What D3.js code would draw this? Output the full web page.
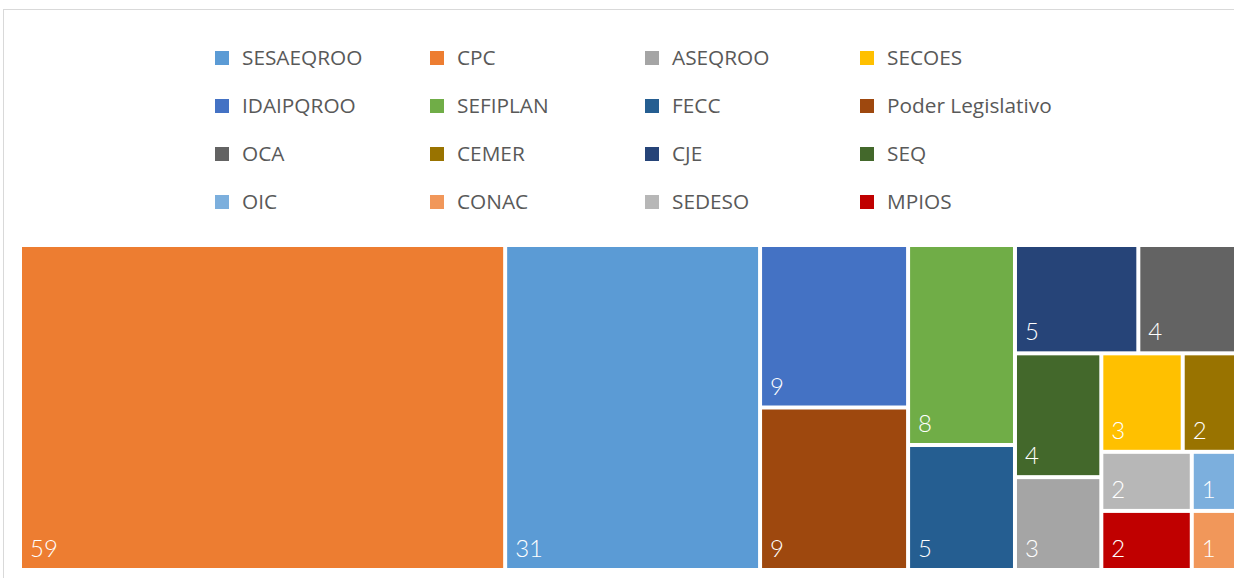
<!DOCTYPE html>
<html>
<head>
  <meta charset="utf-8">
  <title>Treemap</title>
  <style type="text/css">
    body {
      margin: 0;
      background-color: #fff;
    }
    svg {
      display: block;
    }
    text.legend {
      fill: #595959;
      font: 20.8px "Open Sans", sans-serif;
    }
    text.value {
      fill: #fff;
      font: 300 24px "Lato", sans-serif;
    }
  </style>
  <script src="https://d3js.org/d3.v7.min.js"></script>
</head>
<body>

<script>
// data, in the order of the legend
var names = ["SESAEQROO", "CPC", "ASEQROO", "SECOES",
             "IDAIPQROO", "SEFIPLAN", "FECC", "Poder Legislativo",
             "OCA", "CEMER", "CJE", "SEQ",
             "OIC", "CONAC", "SEDESO", "MPIOS"];
var counts = [31, 59, 3, 3,
              9, 8, 5, 9,
              4, 2, 5, 4,
              1, 1, 2, 2];
var colors = ["#5B9BD5", "#ED7D31", "#A5A5A5", "#FFC000",
              "#4472C4", "#70AD47", "#255E91", "#9E480E",
              "#636363", "#997300", "#264478", "#43682B",
              "#7CAFDD", "#F1975A", "#B7B7B7", "#C00000"];

var width = 1234, height = 578;

var svg = d3.select("body").append("svg")
    .attr("width", width)
    .attr("height", height);

// chart border (runs off the right / bottom like the original)
svg.append("rect")
    .attr("x", 3.5).attr("y", 9.5)
    .attr("width", 1300).attr("height", 600)
    .attr("fill", "none")
    .attr("stroke", "#d9d9d9")
    .attr("stroke-width", 1);

// legend
var color = d3.scaleOrdinal().domain(names).range(colors);
var legendX = d3.scaleLinear().domain([0, 1]).range([215, 430]);
var legendY = d3.scaleLinear().domain([0, 1]).range([58, 106]);

var leg = svg.append("g").selectAll("g")
    .data(names)
    .enter().append("g")
    .attr("transform", function(d, i) {
      return "translate(" + legendX(i % 4) + "," + legendY(Math.floor(i / 4)) + ")";
    });

leg.append("rect")
    .attr("x", 0).attr("y", -7)
    .attr("width", 14).attr("height", 14)
    .attr("fill", function(d) { return color(d); });

leg.append("text")
    .attr("class", "legend")
    .attr("x", 27)
    .attr("dy", "0.35em")
    .text(function(d) { return d; });

// squarify like d3's, but without the ratio >= 1 clamp (Excel cuts rows shorter)
function excelTile(ratio) {
  return function(parent, x0, y0, x1, y1) {
    var nodes = parent.children, n = nodes.length, value = parent.value;
    var i0 = 0, i1 = 0;
    while (i0 < n) {
      var dx = x1 - x0, dy = y1 - y0;
      var sum = nodes[i1++].value, minV = sum, maxV = sum;
      var alpha = Math.max(dy / dx, dx / dy) / (value * ratio);
      var beta = sum * sum * alpha;
      var minRatio = Math.max(maxV / beta, beta / minV);
      for (; i1 < n; ++i1) {
        var v = nodes[i1].value;
        sum += v;
        var mn = Math.min(minV, v), mx = Math.max(maxV, v);
        beta = sum * sum * alpha;
        var r = Math.max(mx / beta, beta / mn);
        if (r > minRatio) { sum -= v; break; }
        minV = mn; maxV = mx; minRatio = r;
      }
      var row = {value: sum, children: nodes.slice(i0, i1)};
      if (dx < dy) d3.treemapDice(row, x0, y0, x1, y0 += dy * sum / value);
      else d3.treemapSlice(row, x0, y0, x0 += dx * sum / value, y1);
      value -= sum;
      i0 = i1;
    }
  };
}

var data = names.map(function(d, i) { return {name: d, value: counts[i]}; });

var root = d3.hierarchy({children: data})
    .sum(function(d) { return d.value || 0; })
    .sort(function(a, b) { return b.value - a.value; });

var area = {left: 22, top: 247, right: 1235, bottom: 568};

d3.treemap()
    .tile(excelTile(0.91))
    .size([area.right - area.left, area.bottom - area.top])
    .paddingInner(4)(root);

var cells = svg.append("g")
    .attr("transform", "translate(" + area.left + "," + area.top + ")")
    .selectAll("g")
    .data(root.leaves())
    .enter().append("g")
    .attr("transform", function(d) { return "translate(" + d.x0 + "," + d.y0 + ")"; });

cells.append("rect")
    .attr("width", function(d) { return d.x1 - d.x0; })
    .attr("height", function(d) { return d.y1 - d.y0; })
    .attr("fill", function(d) { return color(d.data.name); });

cells.append("text")
    .attr("class", "value")
    .attr("x", 8)
    .attr("y", function(d) { return d.y1 - d.y0 - 11; })
    .text(function(d) { return d.data.value; });

</script>

</body>
</html>
